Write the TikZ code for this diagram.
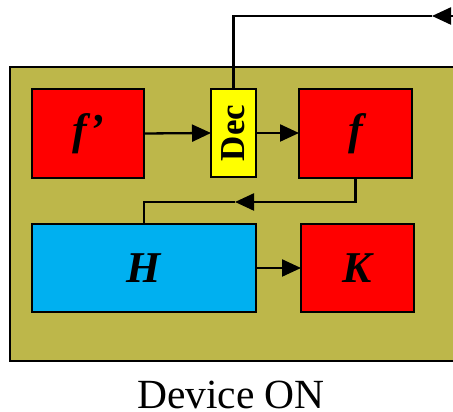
\documentclass[tikz,border=0pt]{standalone}
\usepackage{fontspec}
\setmainfont{Liberation Serif}
\usetikzlibrary{arrows.meta}
\definecolor{olivebg}{RGB}{189,183,74}
\definecolor{boxred}{RGB}{255,0,0}
\definecolor{boxblue}{RGB}{0,176,240}
\definecolor{boxyellow}{RGB}{255,255,0}
\tikzset{bigtip/.tip={Triangle[length=19pt,width=17pt]}}
\begin{document}
\begin{tikzpicture}[x=1pt,y=1pt,
  blk/.style={draw=black,line width=1.4pt,inner sep=0pt,outer sep=0pt,
    font=\fontsize{44}{44}\selectfont\bfseries\itshape},
  conn/.style={line width=2.3pt},
  arr/.style={line width=2.3pt,arrows={-bigtip}},
  lbl/.style={font=\fontsize{41.5}{42}\selectfont}]
\useasboundingbox (0,0) rectangle (453,412);
\clip (0,0) rectangle (453,412);
% device frame
\draw[fill=olivebg,line width=2.3pt] (10,51) rectangle (475,345);
% blocks
\node[blk,fill=boxred,minimum width=112pt,minimum height=89pt] (fp) at (88,278.5) {f’};
\node[blk,fill=boxyellow,minimum width=45pt,minimum height=88pt] (dec) at (233.5,279) {};
\node[rotate=90,font=\fontsize{35}{35}\selectfont\bfseries] (dectxt) at (dec.center) {Dec};
\node[blk,fill=boxred,minimum width=113pt,minimum height=89pt] (f) at (355.5,278.5) {f};
\node[blk,fill=boxblue,minimum width=224pt,minimum height=88pt] (H) at (144,144) {H};
\node[blk,fill=boxred,minimum width=113pt,minimum height=88pt] (K) at (357.5,144) {K};
% connectors
\draw[arr] (fp.east) -- (dec.west);
\draw[arr] (dec.east) -- (dec.east -| f.west);
\draw[arr] (H.east) -- (H.east -| K.west);
% top feedback
\coordinate (topin) at (480,396);
\coordinate (toptip) at (432,396);
\draw[arr] (topin) -- (toptip);
\draw[conn] (toptip) -- (toptip -| dec.north) -- (dec.north);
% f -> H
\coordinate (fdown) at (f.south |- 0,210);
\coordinate (ftip) at (235,210);
\draw[arr] (f.south) -- (fdown) -- (ftip);
\draw[conn] (ftip) -- (ftip -| H.north) -- (H.north);
% caption
\node[lbl,anchor=base] (cap) at (231,3) {Device ON};
\end{tikzpicture}
\end{document}
